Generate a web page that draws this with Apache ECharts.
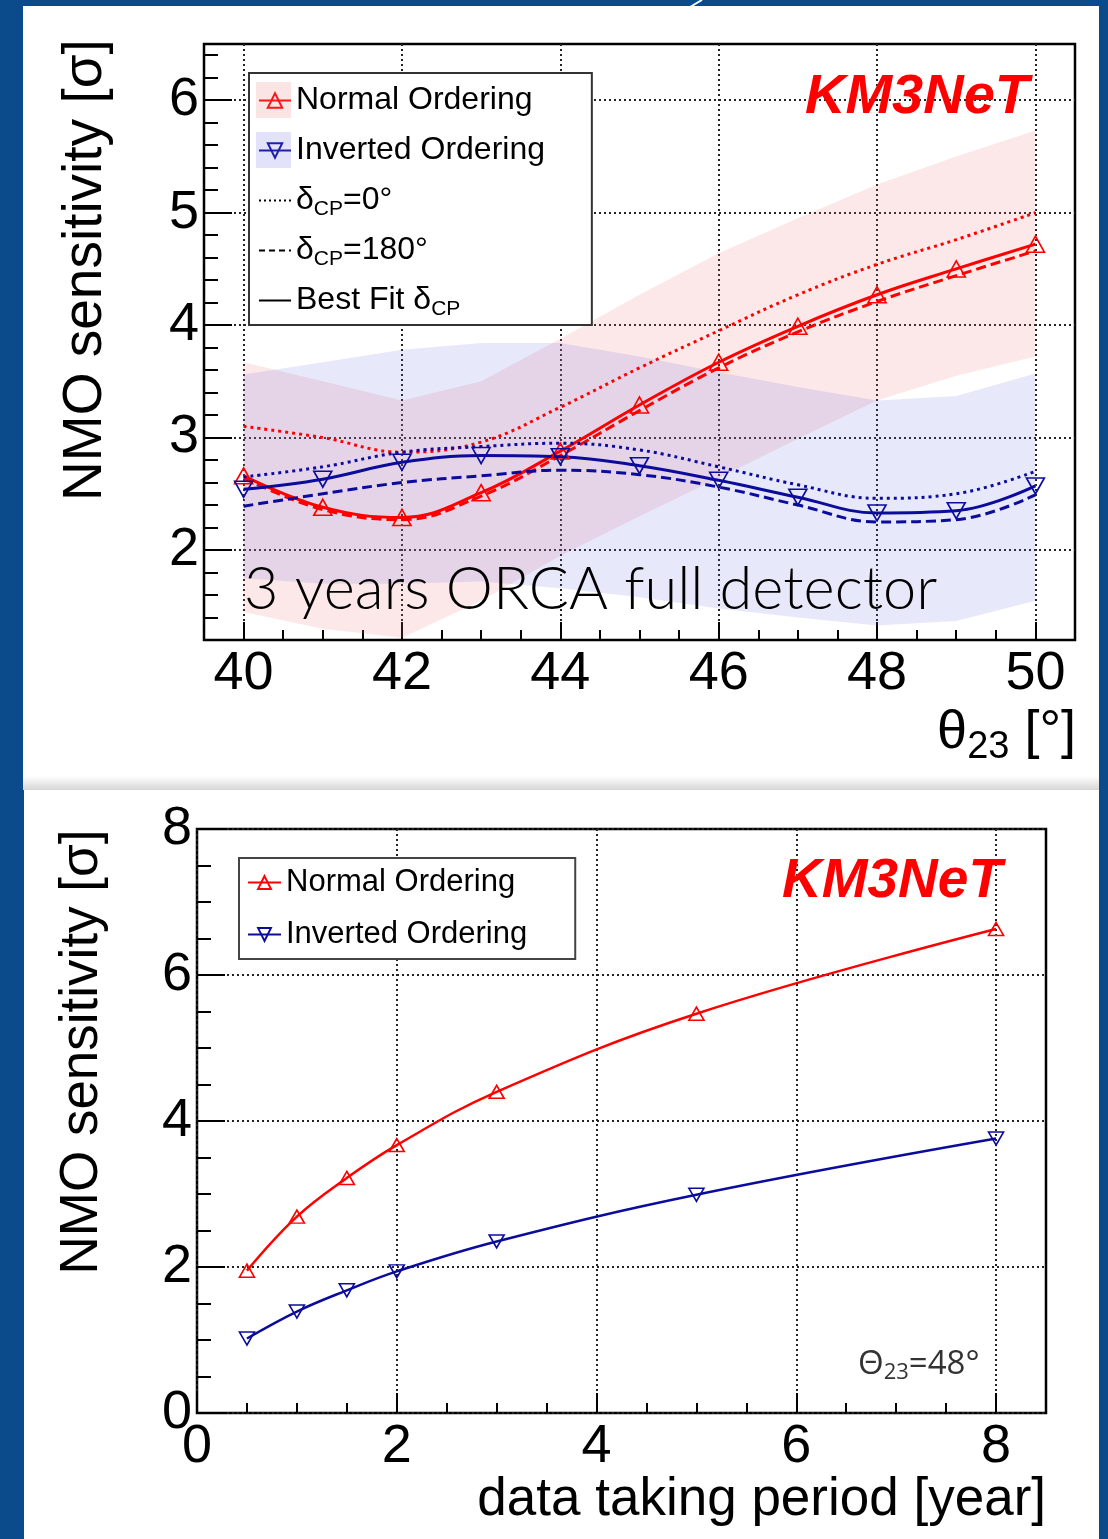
<!DOCTYPE html>
<html>
<head>
<meta charset="utf-8">
<style>
  html, body { margin: 0; padding: 0; background: #0b4a8b; }
  #chart { width: 1108px; height: 1539px; }
</style>
<script src="https://cdn.jsdelivr.net/npm/echarts@6/dist/echarts.min.js"></script>
</head>
<body>
<div id="chart"></div>
<script>
// ---- top panel: sensitivity vs theta23 ----
var thetaTop = [40, 41, 42, 43, 44, 45, 46, 47, 48, 49, 50];
var noBestFit = [2.66, 2.38, 2.29, 2.51, 2.88, 3.29, 3.67, 3.99, 4.27, 4.50, 4.72];
var noDelta0 = [3.10, 3.00, 2.87, 2.96, 3.27, 3.62, 3.95, 4.27, 4.54, 4.76, 5.00];
var noDelta180 = [2.64, 2.36, 2.27, 2.48, 2.84, 3.24, 3.62, 3.94, 4.21, 4.44, 4.66];
var ioBestFit = [2.54, 2.63, 2.78, 2.84, 2.83, 2.75, 2.62, 2.47, 2.33, 2.35, 2.57];
var ioDelta0 = [2.65, 2.74, 2.87, 2.92, 2.95, 2.89, 2.74, 2.58, 2.46, 2.50, 2.70];
var ioDelta180 = [2.39, 2.50, 2.60, 2.66, 2.71, 2.67, 2.56, 2.40, 2.25, 2.27, 2.49];
// shaded bands
var noBandHi = [3.67, 3.50, 3.33, 3.50, 3.88, 4.27, 4.64, 4.95, 5.25, 5.50, 5.73];
var noBandLo = [1.45, 1.30, 1.22, 1.55, 1.95, 2.30, 2.64, 2.99, 3.33, 3.55, 3.72];
var ioBandHi = [3.56, 3.67, 3.78, 3.84, 3.84, 3.72, 3.58, 3.45, 3.33, 3.37, 3.57];
var ioBandLo = [1.75, 1.70, 1.70, 1.72, 1.66, 1.58, 1.48, 1.40, 1.33, 1.37, 1.55];
var thetaTicks = [40, 42, 44, 46, 48, 50];
var sigmaTicksTop = [2, 3, 4, 5, 6];

// ---- bottom panel: sensitivity vs data taking time ----
var years = [0.5, 1, 1.5, 2, 3, 5, 8];
var noYears = [1.95, 2.69, 3.22, 3.67, 4.40, 5.47, 6.63];
var ioYears = [1.02, 1.39, 1.68, 1.94, 2.35, 2.99, 3.76];
var yearTicks = [0, 2, 4, 6, 8];
var sigmaTicksBottom = [0, 2, 4, 6, 8];

var RED = '#ff0000';
var BLUE = '#0c0c9c';
var FONT = 'Liberation Sans';

// every top legend entry carries a subscript token so all rows get the same height
var legendText = {
  'Normal Ordering': '{t|Normal Ordering}{s| }',
  'Inverted Ordering': '{t|Inverted Ordering}{s| }',
  'dcp0': '{t|δ}{s|CP}{t|=0°}',
  'dcp180': '{t|δ}{s|CP}{t|=180°}',
  'bestfit': '{t|Best Fit δ}{s|CP}',
  'NO_b': 'Normal Ordering',
  'IO_b': 'Inverted Ordering'
};

function pairs(xs, ys) {
  return xs.map(function (x, i) { return [x, ys[i]]; });
}

function band(lo, hi, color) {
  return {
    type: 'custom', xAxisIndex: 0, yAxisIndex: 0, silent: true, z: 1,
    data: [[thetaTop[0], lo[0]]],
    renderItem: function (params, api) {
      var pts = [];
      for (var i = 0; i < thetaTop.length; i++) pts.push(api.coord([thetaTop[i], hi[i]]));
      for (var j = thetaTop.length - 1; j >= 0; j--) pts.push(api.coord([thetaTop[j], lo[j]]));
      return { type: 'polygon', shape: { points: pts }, style: { fill: color } };
    }
  };
}

function curve(name, xs, ys, color, dash, width, marker, axis) {
  var s = {
    name: name, type: 'line', xAxisIndex: axis, yAxisIndex: axis,
    data: pairs(xs, ys), smooth: 0.4, z: 3,
    color: color,
    lineStyle: { color: color, width: width, type: dash },
    symbol: 'none'
  };
  if (marker) {
    s.symbol = 'triangle';
    s.symbolRotate = marker === 'down' ? 180 : 0;
    s.symbolSize = axis === 0 ? [18, 16] : [15, 13];
    s.itemStyle = { color: 'rgba(255,255,255,0)', borderColor: color, borderWidth: 1.6 };
  }
  return s;
}

function dummy(name, dash) {
  return {
    name: name, type: 'line', xAxisIndex: 0, yAxisIndex: 0, data: [],
    symbol: 'none', color: '#000', lineStyle: { color: '#000', width: 2, type: dash }
  };
}

function mainAxis(grid, min, max, ticks, pos, tickLen, margin) {
  return {
    type: 'value', gridIndex: grid, min: min, max: max, position: pos,
    axisLine: { show: false },
    axisTick: { show: true, inside: true, length: tickLen, customValues: ticks,
      lineStyle: { color: '#000', width: 2 } },
    axisLabel: { customValues: ticks, margin: margin, fontSize: 54, fontFamily: FONT, color: '#000' },
    splitLine: { show: true, lineStyle: { color: '#222', width: 2, type: [2, 3] } }
  };
}

function minorAxis(grid, min, max, step, pos, tickLen) {
  return {
    type: 'value', gridIndex: grid, min: min, max: max, interval: step, position: pos,
    axisLine: { show: false },
    axisTick: { show: true, inside: true, length: tickLen, lineStyle: { color: '#000', width: 2 } },
    axisLabel: { show: false },
    splitLine: { show: false }
  };
}

function legendStyle(size) {
  return {
    fontSize: size, fontFamily: FONT, color: '#000', lineHeight: 30,
    rich: {
      t: { fontSize: size, fontFamily: FONT, color: '#000', lineHeight: 30 },
      s: { fontSize: 21, fontFamily: FONT, color: '#000', lineHeight: 30, padding: [18, 0, 0, 0] }
    }
  };
}
var hidden = { color: 'rgba(0,0,0,0)', borderColor: 'rgba(0,0,0,0)' };

var option = {
  animation: false,
  backgroundColor: '#0b4a8b',
  grid: [
    { left: 204, top: 44, width: 871, height: 596, show: true, borderColor: '#000', borderWidth: 2.5, backgroundColor: 'rgba(0,0,0,0)' },
    { left: 197, top: 829, width: 849, height: 584, show: true, borderColor: '#000', borderWidth: 2.5, backgroundColor: 'rgba(0,0,0,0)' }
  ],
  xAxis: [
    mainAxis(0, 39.5, 50.5, thetaTicks, 'bottom', 18, 7),
    mainAxis(1, 0, 8.5, yearTicks, 'bottom', 20, 7),
    minorAxis(0, 39.5, 50.5, 0.5, 'bottom', 10),
    minorAxis(1, 0, 8.5, 0.5, 'bottom', 10)
  ],
  yAxis: [
    mainAxis(0, 1.2, 6.5, sigmaTicksTop, 'left', 28, 5),
    mainAxis(1, 0, 8, sigmaTicksBottom, 'left', 28, 5),
    minorAxis(0, 1.2, 6.5, 0.2, 'left', 14),
    minorAxis(1, 0, 8, 0.5, 'left', 14)
  ],
  legend: [
    {
      orient: 'vertical', left: 249, top: 73, itemWidth: 32, itemHeight: 18, itemGap: 11,
      padding: [8, 41, 5, 9], borderColor: '#333', borderWidth: 2, backgroundColor: '#fff',
      selectedMode: false, textStyle: legendStyle(32),
      formatter: function (n) { return legendText[n]; },
      data: ['Normal Ordering', 'Inverted Ordering',
        { name: 'dcp0', itemStyle: hidden }, { name: 'dcp180', itemStyle: hidden }, { name: 'bestfit', itemStyle: hidden }]
    },
    {
      orient: 'vertical', left: 239, top: 858, itemWidth: 33, itemHeight: 16, itemGap: 21,
      padding: [9, 48, 9, 8], borderColor: '#444', borderWidth: 2, backgroundColor: '#fff',
      selectedMode: false, textStyle: legendStyle(31),
      formatter: function (n) { return legendText[n]; },
      data: ['NO_b', 'IO_b']
    }
  ],
  graphic: [
    { type: 'rect', z: -5, silent: true, shape: { x: 23, y: 6, width: 1076, height: 779 }, style: { fill: '#fff' } },
    { type: 'rect', z: -5, silent: true, shape: { x: 23, y: 776, width: 1076, height: 14 },
      style: { fill: new echarts.graphic.LinearGradient(0, 0, 0, 1, [{ offset: 0, color: '#ffffff' }, { offset: 1, color: '#d6d6d6' }]) } },
    { type: 'rect', z: -5, silent: true, shape: { x: 24, y: 790, width: 1075, height: 749 }, style: { fill: '#fff' } },
    { type: 'line', z: -5, silent: true, shape: { x1: 702, y1: 0, x2: 690, y2: 7 }, style: { stroke: '#fff', lineWidth: 2 } },
    // legend swatches for the bands
    { type: 'rect', z: 20, silent: true, shape: { x: 256, y: 82, width: 35, height: 36 }, style: { fill: 'rgba(235,120,120,0.2)' } },
    { type: 'rect', z: 20, silent: true, shape: { x: 256, y: 132, width: 35, height: 36 }, style: { fill: 'rgba(110,110,230,0.2)' } },
    // axis titles
    { type: 'text', z: 20, x: 86, y: 270, rotation: Math.PI / 2,
      style: { text: 'NMO sensitivity [σ]', fontSize: 55, fontFamily: FONT, fill: '#000', align: 'center', verticalAlign: 'middle' } },
    { type: 'text', z: 20, x: 82, y: 1052, rotation: Math.PI / 2,
      style: { text: 'NMO sensitivity [σ]', fontSize: 53, fontFamily: FONT, fill: '#000', align: 'center', verticalAlign: 'middle' } },
    { type: 'text', z: 20, x: 1076, y: 733,
      style: { text: '{a|θ}{s|23}{a| [°]}', align: 'right', verticalAlign: 'middle',
        rich: { a: { fontSize: 54, fontFamily: FONT, fill: '#000', lineHeight: 56 },
                s: { fontSize: 38, fontFamily: FONT, fill: '#000', lineHeight: 56, padding: [30, 0, 0, 0] } } } },
    { type: 'text', z: 20, x: 1046, y: 1500,
      style: { text: 'data taking period [year]', fontSize: 53, fontFamily: FONT, fill: '#000', align: 'right', verticalAlign: 'middle' } },
    // labels
    { type: 'text', z: 20, x: 805, y: 98,
      style: { text: 'KM3NeT', fontSize: 56, fontWeight: 'bold', fontStyle: 'italic', fontFamily: FONT, fill: '#ff0000', align: 'left', verticalAlign: 'middle' } },
    { type: 'text', z: 20, x: 782, y: 882,
      style: { text: 'KM3NeT', fontSize: 55, fontWeight: 'bold', fontStyle: 'italic', fontFamily: FONT, fill: '#ff0000', align: 'left', verticalAlign: 'middle' } },
    { type: 'text', z: 20, x: 244, y: 590,
      style: { text: '3 years ORCA full detector', fontSize: 59.5, fontWeight: 300, fontFamily: 'Lato', fill: '#000', align: 'left', verticalAlign: 'middle' } },
    { type: 'text', z: 20, x: 858, y: 1365,
      style: { text: '{a|Θ}{s|23}{a|=48°}', align: 'left', verticalAlign: 'middle',
        rich: { a: { fontSize: 33, fontFamily: 'Open Sans', fill: '#333', lineHeight: 36 },
                s: { fontSize: 22, fontFamily: 'Open Sans', fill: '#333', lineHeight: 36, padding: [16, 0, 0, 0] } } } }
  ],
  series: [
    band(noBandLo, noBandHi, 'rgba(235,120,120,0.17)'),
    band(ioBandLo, ioBandHi, 'rgba(110,110,230,0.16)'),
    curve('no_d0', thetaTop, noDelta0, RED, [3, 4], 3, null, 0),
    curve('no_d180', thetaTop, noDelta180, RED, [10, 5], 3, null, 0),
    curve('Normal Ordering', thetaTop, noBestFit, RED, 'solid', 3, 'up', 0),
    curve('io_d0', thetaTop, ioDelta0, BLUE, [3, 4], 3, null, 0),
    curve('io_d180', thetaTop, ioDelta180, BLUE, [10, 5], 3, null, 0),
    curve('Inverted Ordering', thetaTop, ioBestFit, BLUE, 'solid', 3, 'down', 0),
    dummy('dcp0', [2, 3]),
    dummy('dcp180', [6, 4]),
    dummy('bestfit', 'solid'),
    curve('NO_b', years, noYears, RED, 'solid', 2.5, 'up', 1),
    curve('IO_b', years, ioYears, BLUE, 'solid', 2.5, 'down', 1)
  ]
};

var chart = echarts.init(document.getElementById('chart'));
chart.setOption(option);
</script>
</body>
</html>
